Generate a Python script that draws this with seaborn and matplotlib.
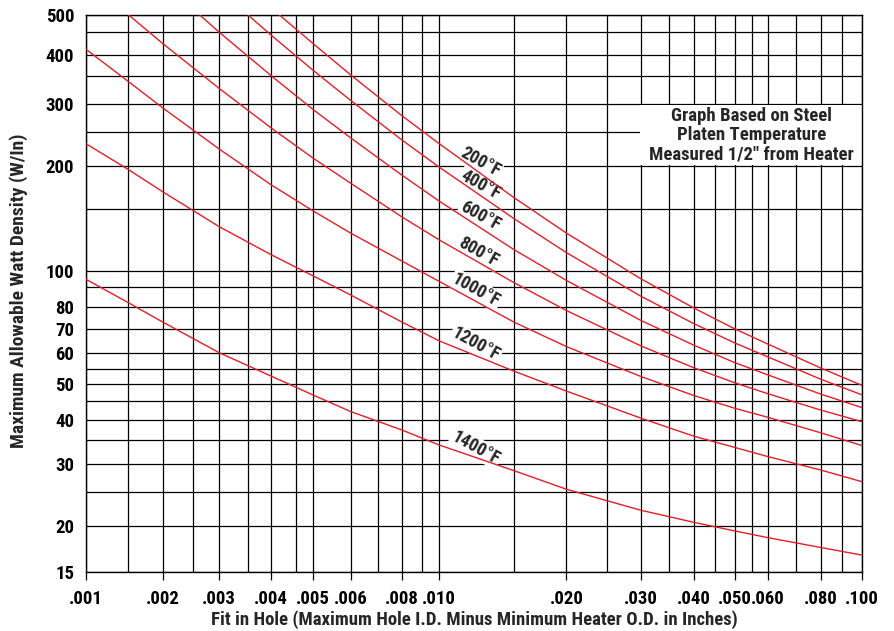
import matplotlib
matplotlib.use("Agg")
import numpy as np
import pandas as pd
import seaborn as sns
import matplotlib.pyplot as plt
from matplotlib import font_manager
from matplotlib.patches import Rectangle

# 곡선 데이터 (판독값)
x_200 = [.00415, .0045, .005, .006, .008, .010, .015, .020, .030, .040, .050, .060, .080, .100]
y_200 = [500, 458, 424, 353, 278, 231, 162, 128, 95, 79.7, 70.1, 63.6, 55.3, 49.7]

x_400 = [.0035, .004, .005, .006, .008, .010, .015, .020, .030, .040, .050, .060, .080, .100]
y_400 = [500, 443, 363, 306, 237, 198, 141, 112.6, 85.4, 72.4, 64.1, 58.8, 51.6, 46.8]

x_600 = [.00261, .003, .004, .005, .006, .008, .010, .015, .020, .030, .040, .050, .060, .080, .100]
y_600 = [500, 450, 351, 289, 240, 188, 158, 115, 94, 73.8, 63.2, 57.0, 53.0, 47.0, 43.2]

x_800 = [.0015, .002, .003, .004, .005, .006, .008, .010, .015, .020, .030, .040, .050, .060, .080, .100]
y_800 = [500, 424, 327, 256, 210, 178, 142.5, 122.4, 92.8, 78.4, 62.9, 55.4, 50.5, 47.1, 42.5, 39.5]

x_low = [.001, .0015, .002, .003, .004, .005, .006, .008, .010, .015, .020, .030, .040, .050, .060, .080, .100]
y_1000 = [412, 340, 292, 223, 176, 148, 128, 106.6, 93.4, 73.1, 62.6, 52.5, 46.6, 43.0, 40.6, 36.7, 33.8]
y_1200 = [231, 195, 168, 133.5, 111, 96.7, 86, 73.1, 64.9, 54.3, 47.9, 40.4, 35.9, 33.4, 31.5, 28.9, 26.8]
y_1400 = [94.7, 82.2, 73.0, 60.2, 52.6, 46.7, 42.1, 37.4, 33.9, 28.8, 25.5, 22.2, 20.5, 19.4, 18.6, 17.5, 16.7]

temps = ["200°F", "400°F", "600°F", "800°F", "1000°F", "1200°F", "1400°F"]

# 눈금
x_ticks = [.001, .002, .003, .004, .005, .006, .008, .010, .020, .030, .040, .050, .060, .080, .100]
x_ticklabels = [".001", ".002", ".003", ".004", ".005", ".006", ".008", ".010",
                ".020", ".030", ".040", ".050", ".060", ".080", ".100"]
x_grid = [.0015, .0025, .0035, .0045, .007, .009, .015, .025, .035, .045, .055, .07, .09]
y_ticks = [15, 20, 30, 40, 50, 60, 70, 80, 100, 200, 300, 400, 500]
y_grid = [25, 35, 45, 55, 90, 150, 250, 350, 450]

# 원본 그래프 용지의 눈금 간격 (로그 축이 고르지 않음)
warp_x_val = [.001, .0015, .002, .0025, .003, .0035, .004, .0045, .005, .006, .007, .008, .009, .010, .100]
warp_x_pos = [86, 128.3, 163, 193.3, 219.3, 247.7, 271.3, 296.3, 313.3, 350.7, 378.3, 401.7, 422, 439.3, 861.7]
warp_y_val = [15, 20, 25, 30, 35, 40, 45, 50, 55, 60, 70, 80, 90, 100, 150, 200, 250, 300, 350, 400, 450, 500]
warp_y_pos = [572.3, 526, 492.3, 464.3, 440, 419.7, 401, 384.3, 369, 353.3, 329, 307.3, 287.3,
              270.7, 209, 165.7, 131.7, 104, 76.3, 55, 32.3, 14.7]


def lin(v, src, dst):
    v = np.asarray(v, dtype=float)
    out = np.interp(v, src, dst)
    s0 = (dst[1] - dst[0]) / (src[1] - src[0])
    s1 = (dst[-1] - dst[-2]) / (src[-1] - src[-2])
    out = np.where(v < src[0], dst[0] + (v - src[0]) * s0, out)
    out = np.where(v > src[-1], dst[-1] + (v - src[-1]) * s1, out)
    return out


lx = np.log10(warp_x_val)
px = np.array(warp_x_pos)
ly = np.log10(warp_y_val)
py = -np.array(warp_y_pos)

fwd_x = lambda v: lin(np.log10(np.clip(v, 1e-9, None)), lx, px)
inv_x = lambda p: 10 ** lin(p, px, lx)
fwd_y = lambda v: lin(np.log10(np.clip(v, 1e-9, None)), ly, py)
inv_y = lambda p: 10 ** lin(p, py, ly)

sns.set_theme(style="ticks")

names = {f.name for f in font_manager.fontManager.ttflist}
fam = "DejaVu Sans"
for cand in ["Liberation Sans Narrow", "DejaVu Sans Condensed", "Roboto Condensed"]:
    if cand in names:
        fam = cand
        break
plt.rcParams["font.family"] = [fam, "DejaVu Sans"]
plt.rcParams["font.weight"] = "bold"

RED = "#e41e26"

rows = []
for t, xs, ys in zip(temps,
                     [x_200, x_400, x_600, x_800, x_low, x_low, x_low],
                     [y_200, y_400, y_600, y_800, y_1000, y_1200, y_1400]):
    for a, b in zip(xs, ys):
        rows.append({"fit": a, "watt": b, "temp": t})
df = pd.DataFrame(rows)

fig = plt.figure(figsize=(8.94, 6.31), dpi=100)
ax = fig.add_axes([86 / 894, (631 - 572.3) / 631, (861.7 - 86) / 894, (572.3 - 14.7) / 631])
ax.set_xscale("function", functions=(fwd_x, inv_x))
ax.set_yscale("function", functions=(fwd_y, inv_y))

sns.lineplot(data=df, x="fit", y="watt", hue="temp", palette=[RED] * 7,
             estimator=None, sort=False, legend=False, linewidth=1.0, ax=ax, zorder=3)

ax.set_xlim(.001, .1)
ax.set_ylim(15, 500)

ax.set_xticks(x_ticks)
ax.set_xticklabels(x_ticklabels)
ax.set_xticks(x_grid, minor=True)
ax.set_yticks(y_ticks)
ax.set_yticklabels([str(v) for v in y_ticks])
ax.set_yticks(y_grid, minor=True)
ax.set_axisbelow(True)
ax.grid(True, which="both", color="black", linewidth=0.9)

ax.tick_params(axis="x", which="major", length=6, width=0.9, color="black", direction="out",
               pad=7, labelsize=13.5, labelcolor="black")
ax.tick_params(axis="x", which="minor", length=0)
ax.tick_params(axis="y", which="both", length=0, pad=8.5, labelsize=13.5, labelcolor="black")
for lab in ax.get_xticklabels() + ax.get_yticklabels():
    lab.set_fontweight("bold")
for s in ax.spines.values():
    s.set_color("black")
    s.set_linewidth(1.0)
ax.set_xlabel("")
ax.set_ylabel("")

# 설명 상자
ax.add_patch(Rectangle((.0299, 201), .1 - .0299, 298.5 - 201, facecolor="white",
                       edgecolor="none", zorder=1))
ax.text(0.858, 0.784, "Graph Based on Steel\nPlaten Temperature\nMeasured 1/2\" from Heater",
        transform=ax.transAxes, ha="center", va="center", fontsize=13.5, fontweight="bold",
        linespacing=1.1, zorder=4)

# 온도 라벨
label_x = [.0125, .0125, .0125, .0124, .0122, .0122, .0122]
label_y = [205, 176, 143, 113, 88.6, 63.6, 33.3]
for t, lx_, ly_ in zip(temps, label_x, label_y):
    ax.text(lx_, ly_, t, rotation=-29, rotation_mode="anchor", ha="center", va="center",
            fontsize=13, fontweight="bold", zorder=2,
            bbox=dict(facecolor="white", edgecolor="none", pad=1.0))

fig.text(19 / 894, 1 - 291 / 631, "Maximum Allowable Watt Density (W/In)", rotation=90,
         ha="center", va="center", fontsize=14, fontweight="bold")
fig.text(474 / 894, 1 - 620 / 631,
         "Fit in Hole (Maximum Hole I.D. Minus Minimum Heater O.D. in Inches)",
         ha="center", va="center", fontsize=13.5, fontweight="bold")

fig.savefig("out.png", dpi=100)
